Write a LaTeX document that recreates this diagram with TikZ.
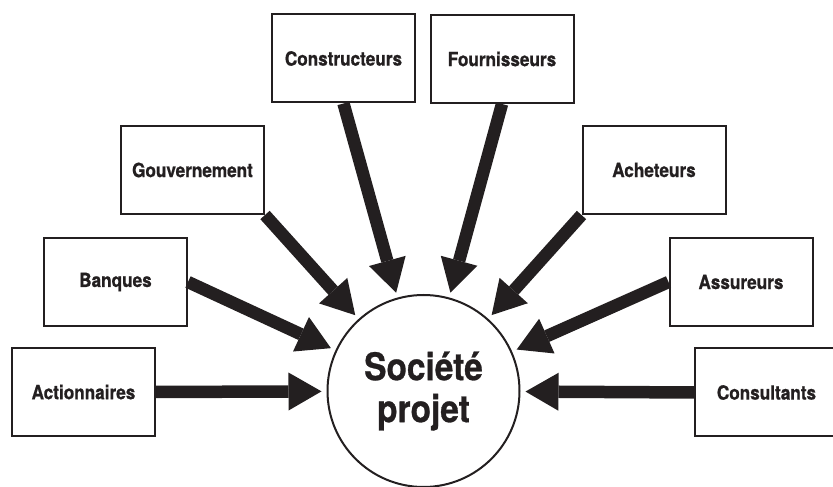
\documentclass[tikz,border=0pt]{standalone}
\usepackage{fontspec}
\setmainfont{TeX Gyre Heros}[FakeStretch=0.88, BoldFeatures={FakeBold=0.8}]
\usetikzlibrary{arrows.meta}
\definecolor{ink}{HTML}{231F20}
\begin{document}
\begin{tikzpicture}
[
    x=1pt, y=1pt,
    party/.style={draw=ink, line width=2pt, fill=white, text=ink,
        minimum width=143pt, minimum height=88pt,
        font=\fontsize{19.5}{22}\selectfont\bfseries},
    hub/.style={circle, draw=ink, line width=2pt, fill=white, text=ink,
        minimum size=192pt, align=center,
        font=\fontsize{38}{42}\selectfont\bfseries},
    feed/.style={draw=ink, line width=12.5pt, shorten >=5pt,
        -{Triangle[length=33pt, width=38pt, line width=0pt]}},
]
\useasboundingbox (0,0) rectangle (833,487);
\node[hub] (soc) at (423.5,96) {Société\\projet};
\node[party] (act) at (83.5,95) {Actionnaires};
\node[party] (ban) at (115.5,205) {Banques};
\node[party] (gov) at (192.5,317) {Gouvernement};
\node[party] (con) at (343.5,428.5) {Constructeurs};
\node[party] (fou) at (502,428) {Fournisseurs};
\node[party] (ach) at (654,317) {Acheteurs};
\node[party] (ass) at (741,205) {Assureurs};
\node[party] (cst) at (766.5,94.5) {Consultants};
\draw[feed] (act.east) -- (soc);
\draw[feed] (ban.east) -- (soc);
\draw[feed] (gov.south east) -- (soc);
\draw[feed] (con.south) -- (soc);
\draw[feed] (fou.south) -- (soc);
\draw[feed] (ach.south west) -- (soc);
\draw[feed] (ass.west) -- (soc);
\draw[feed] (cst.west) -- (soc);
\end{tikzpicture}
\end{document}
